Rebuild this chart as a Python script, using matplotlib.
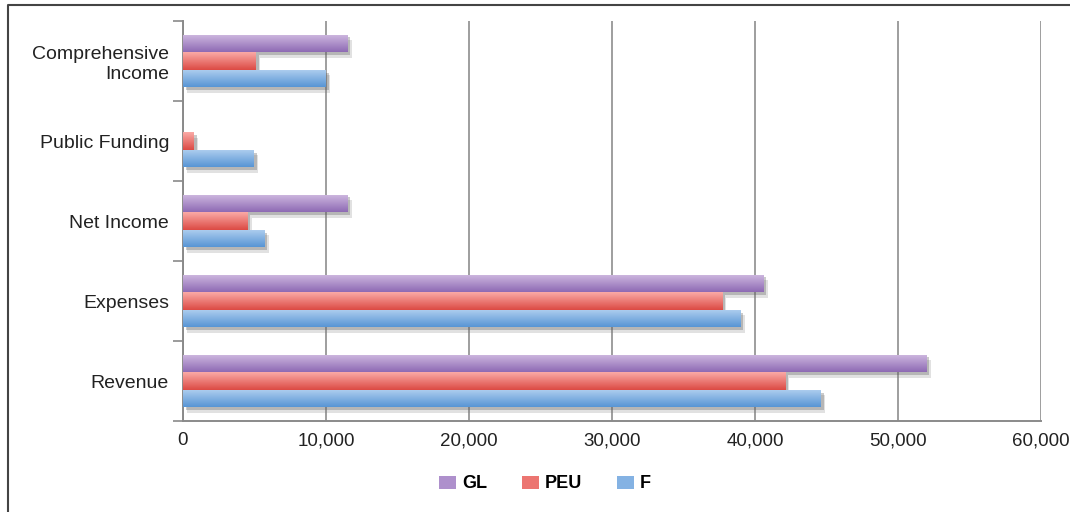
import numpy as np
import matplotlib
matplotlib.use("Agg")
import matplotlib.pyplot as plt
import matplotlib.patheffects as pe
from matplotlib.colors import LinearSegmentedColormap
from matplotlib.lines import Line2D
from matplotlib.patches import Patch

categories = ["Revenue", "Expenses", "Net Income", "Public Funding", "Comprehensive\nIncome"]
series_names = ["GL", "PEU", "F"]
gl_values = [52000, 40600, 11500, 0, 11500]
peu_values = [42100, 37700, 4500, 750, 5100]
f_values = [44600, 39000, 5700, 4950, 10000]
x_ticks = [0, 10000, 20000, 30000, 40000, 50000, 60000]

grads = {
    "GL": ("#cfb9e0", "#8e6ab4"),
    "PEU": ("#faaaa6", "#dc4a44"),
    "F": ("#b0cfef", "#5895d5"),
}

plt.rcParams['font.family'] = ['Liberation Sans', 'DejaVu Sans']

fig = plt.figure(figsize=(10.7, 5.12), dpi=100)
ax = fig.add_axes([183/1070, 1-421/512, (1041-183)/1070, (421-21)/512])

y = np.arange(len(categories))
h = 0.22
offsets = {"GL": h, "PEU": 0.0, "F": -h}
data = {"GL": gl_values, "PEU": peu_values, "F": f_values}

for name in series_names:
    top, bot = grads[name]
    cmap = LinearSegmentedColormap.from_list(name, [bot, top])
    bars = ax.barh(y + offsets[name], data[name], height=h, color=grads[name][1],
                   zorder=3, linewidth=0)
    for b in bars:
        if b.get_width() <= 0:
            continue
        b.set_path_effects([pe.SimplePatchShadow(offset=(3, -4), shadow_rgbFace="#777777", alpha=0.22),
                            pe.SimplePatchShadow(offset=(2, -2), shadow_rgbFace="#555555", alpha=0.3),
                            pe.Normal()])
        x0, y0 = b.get_x(), b.get_y()
        w, hh = b.get_width(), b.get_height()
        grad = np.linspace(0, 1, 64).reshape(-1, 1)
        im = ax.imshow(grad, cmap=cmap, aspect='auto', origin='lower',
                       extent=[x0, x0 + w, y0, y0 + hh], zorder=4, interpolation='bilinear')
        im.set_clip_path(b)

ax.set_xlim(0, 60000)
ax.set_ylim(-0.5, len(categories) - 0.5)
ax.set_xticks(x_ticks)
ax.set_xticklabels([f"{v:,}" for v in x_ticks])
ax.set_yticks(y)
ax.set_yticklabels(categories, fontsize=14, color="#222222", linespacing=1.25)
ax.set_yticks(np.arange(-0.5, len(categories), 1.0), minor=True)
ax.tick_params(axis='y', which='major', length=0, pad=10)
ax.tick_params(axis='y', which='minor', length=7, color="#8a8a8a", width=1.2)
ax.tick_params(axis='x', which='major', length=0, pad=8, labelsize=13.5, labelcolor="#222222")
ax.grid(axis='x', color="#9e9e9e", linewidth=1.4, zorder=0)
ax.set_axisbelow(True)
for s in ["top", "right"]:
    ax.spines[s].set_visible(False)
for s in ["left", "bottom"]:
    ax.spines[s].set_color("#8a8a8a")
    ax.spines[s].set_linewidth(1.4)

handles = [Patch(facecolor=c, edgecolor="none") for c in ["#ae90cc", "#ec7571", "#84b2e3"]]
leg = fig.legend(handles, series_names, loc='center', bbox_to_anchor=(545/1070, 1-484/512),
                 ncol=3, frameon=False, handlelength=0.95, handleheight=0.75,
                 columnspacing=1.9, handletextpad=0.35,
                 prop={'family': ['Liberation Sans Narrow', 'Liberation Sans', 'DejaVu Sans'],
                       'weight': 'bold', 'size': 13})

fig.add_artist(Line2D([8/1070, 8/1070, 1.0], [0.0, 1-5/512, 1-5/512],
                      transform=fig.transFigure, color="#444444", linewidth=1.5))

fig.savefig("out.png", dpi=100, facecolor="white")
